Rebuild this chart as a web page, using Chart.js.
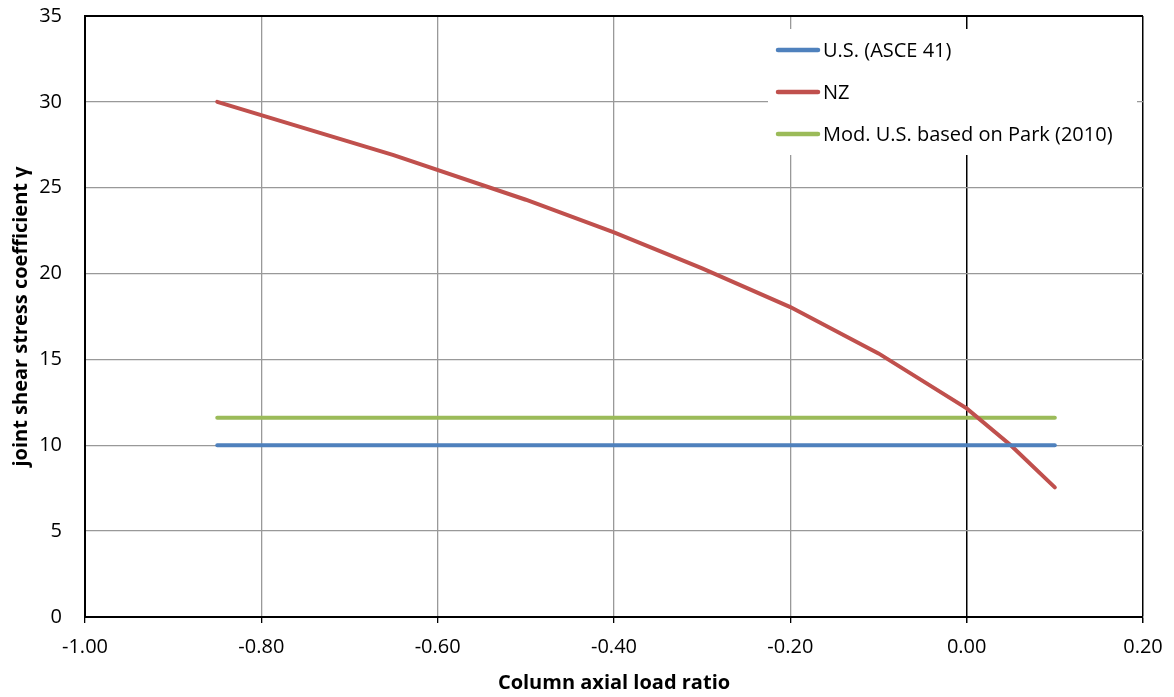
<!DOCTYPE html>
<html>
<head>
<meta charset="utf-8">
<script src="https://cdn.jsdelivr.net/npm/chart.js@4"></script>
<style>
  html, body { margin: 0; padding: 0; background: #fff; }
  #wrap { width: 1174px; height: 697px; }
</style>
</head>
<body>
<div id="wrap"><canvas id="grafica"></canvas></div>
<script>
// datos
var etiquetas = ['U.S. (ASCE 41)', 'NZ', 'Mod. U.S. based on Park (2010)'];
var xUS = [-0.85, 0.10];
var yUS = [10, 10];
var xNZ = [-0.85, -0.65, -0.50, -0.40, -0.30, -0.20, -0.10, 0.00, 0.05, 0.10];
var yNZ = [30.0, 26.9, 24.3, 22.4, 20.3, 18.05, 15.35, 12.15, 10.0, 7.55];
var xMod = [-0.85, 0.10];
var yMod = [11.6, 11.6];
var xTicks = [-1.00, -0.80, -0.60, -0.40, -0.20, 0.00, 0.20];
var yTicks = [0, 5, 10, 15, 20, 25, 30, 35];

var fuente = "'Open Sans', 'Noto Sans', sans-serif";

function puntos(xs, ys) {
    return xs.map(function(x, i) { return { x: x, y: ys[i] }; });
}

// leyenda dentro del area de la grafica
var leyendaInterna = {
    id: 'leyendaInterna',
    afterDraw: function(chart) {
        var ctx = chart.ctx;
        var area = chart.chartArea;
        var x0 = area.right - 375, y0 = area.top + 13;
        ctx.save();
        ctx.fillStyle = '#fff';
        ctx.fillRect(x0, y0, 369, 126);
        ctx.font = '20px ' + fuente;
        ctx.textBaseline = 'middle';
        chart.data.datasets.forEach(function(ds, i) {
            var y = y0 + 21 + i * 42;
            ctx.strokeStyle = ds.borderColor;
            ctx.lineWidth = 4.5;
            ctx.lineCap = 'round';
            ctx.beginPath();
            ctx.moveTo(x0 + 10, y);
            ctx.lineTo(x0 + 50, y);
            ctx.stroke();
            ctx.fillStyle = '#000';
            ctx.fillText(ds.label, x0 + 55, y + 1);
        });
        ctx.restore();
    }
};

function esBorde(v, lista) {
    return lista.some(function(b) { return Math.abs(v - b) < 1e-9; });
}

var ctx = document.getElementById('grafica').getContext('2d');
new Chart(ctx, {
    type: 'scatter',
    data: {
        datasets: [
            { label: etiquetas[0], data: puntos(xUS, yUS), borderColor: '#4F81BD', backgroundColor: '#4F81BD' },
            { label: etiquetas[1], data: puntos(xNZ, yNZ), borderColor: '#C0504D', backgroundColor: '#C0504D' },
            { label: etiquetas[2], data: puntos(xMod, yMod), borderColor: '#9BBB59', backgroundColor: '#9BBB59' }
        ].map(function(d) {
            d.showLine = true;
            d.borderWidth = 4;
            d.pointRadius = 0;
            d.borderCapStyle = 'round';
            d.tension = 0;
            return d;
        })
    },
    options: {
        responsive: true,
        maintainAspectRatio: false,
        animation: false,
        layout: { padding: { top: 16, right: 31, left: 0, bottom: 0 } },
        plugins: {
            legend: { display: false },
            tooltip: { enabled: false }
        },
        scales: {
            x: {
                type: 'linear',
                min: -1,
                max: 0.2,
                afterFit: function(s) { s.height = 80; s.paddingLeft = 0; s.paddingRight = 0; },
                afterBuildTicks: function(s) { s.ticks = xTicks.map(function(v) { return { value: v }; }); },
                ticks: {
                    color: '#000',
                    font: { family: fuente, size: 20 },
                    padding: 12,
                    maxRotation: 0,
                    callback: function(v) { return Number(v).toFixed(2); }
                },
                grid: {
                    color: function(c) { return esBorde(c.tick.value, [0, 0.2]) ? '#000' : '#999'; },
                    lineWidth: function(c) { return esBorde(c.tick.value, [0, 0.2]) ? 1.5 : 1.3; },
                    tickColor: '#000',
                    tickLength: 6
                },
                border: { color: '#000', width: 2 },
                title: {
                    display: true,
                    text: 'Column axial load ratio',
                    color: '#000',
                    font: { family: fuente, size: 20, weight: 'bold' },
                    padding: { top: 4, bottom: 2 }
                }
            },
            y: {
                min: 0,
                max: 35,
                afterFit: function(s) { s.width = 85; s.paddingTop = 0; s.paddingBottom = 0; },
                afterBuildTicks: function(s) { s.ticks = yTicks.map(function(v) { return { value: v }; }); },
                ticks: {
                    color: '#000',
                    font: { family: fuente, size: 20 },
                    padding: 23
                },
                grid: {
                    color: function(c) { return esBorde(c.tick.value, [35]) ? '#000' : '#999'; },
                    lineWidth: function(c) { return esBorde(c.tick.value, [35]) ? 2 : 1.3; },
                    drawTicks: false
                },
                border: { color: '#000', width: 2 },
                title: {
                    display: true,
                    text: 'joint shear stress coefficient γ',
                    color: '#000',
                    font: { family: fuente, size: 20, weight: 'bold' },
                    padding: { top: 9, bottom: 0 }
                }
            }
        }
    },
    plugins: [leyendaInterna]
});
</script>
</body>
</html>
